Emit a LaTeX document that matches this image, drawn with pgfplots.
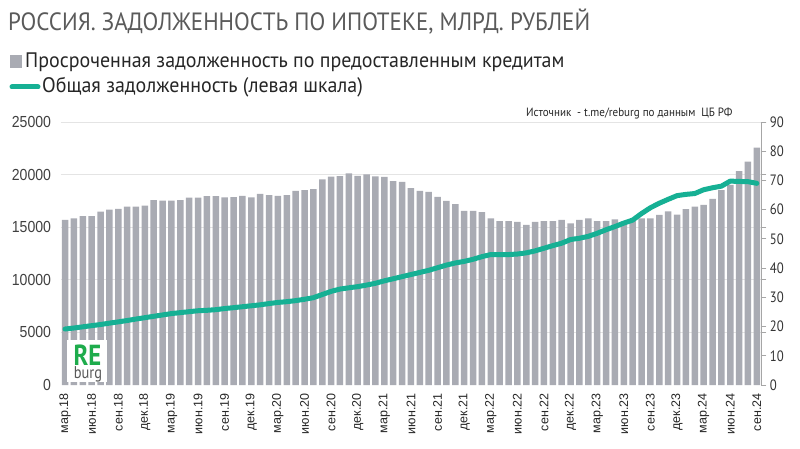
\documentclass[border=0pt]{standalone}
\usepackage{pgfplots}
\pgfplotsset{compat=1.18}
\usepackage{pgfplotstable}
\usepackage{fontspec}
\setmainfont{PT Sans}
\newfontfamily\condfont{PT Sans}[FakeStretch=0.85]
\newfontfamily\titlefont{PT Sans}[FakeStretch=0.92]
\newfontfamily\legfont{PT Sans}[FakeStretch=0.95]
\newfontfamily\arialfont{Liberation Sans}
\newfontfamily\arialnarrow{Liberation Sans}[FakeStretch=0.88]
\definecolor{barc}{RGB}{169,171,179}
\definecolor{teal1}{RGB}{22,176,148}
\definecolor{titlec}{RGB}{90,90,90}
\definecolor{gridc}{RGB}{228,228,228}
\definecolor{logog}{RGB}{30,172,76}

\pgfplotstableread{
i bar line
0 56.5 5320
1 57.0 5420
2 57.8 5530
3 57.8 5640
4 59.3 5750
5 60.0 5880
6 60.3 6000
7 61.0 6130
8 61.0 6270
9 61.4 6400
10 63.3 6530
11 63.1 6660
12 63.1 6790
13 63.3 6880
14 64.1 6970
15 64.1 7060
16 64.6 7100
17 64.6 7160
18 64.2 7270
19 64.3 7350
20 64.7 7440
21 64.2 7530
22 65.4 7620
23 65.0 7740
24 64.7 7850
25 65.0 7920
26 66.4 8020
27 66.7 8150
28 67.0 8300
29 70.4 8600
30 71.3 8900
31 71.5 9120
32 72.4 9240
33 71.6 9350
34 72.1 9500
35 71.4 9670
36 71.2 9900
37 69.8 10100
38 69.5 10300
39 67.4 10500
40 66.4 10700
41 66.1 10900
42 64.4 11150
43 63.0 11400
44 61.9 11600
45 59.6 11750
46 59.6 11950
47 59.2 12200
48 57.0 12400
49 56.1 12400
50 56.1 12400
51 55.8 12450
52 54.8 12560
53 55.8 12750
54 56.1 13000
55 56.1 13250
56 56.5 13480
57 55.3 13830
58 56.5 13950
59 57.0 14130
60 56.1 14420
61 56.1 14760
62 56.7 15060
63 56.0 15390
64 56.8 15680
65 57.0 16300
66 57.0 16850
67 58.2 17280
68 59.4 17650
69 58.3 18000
70 60.2 18120
71 61.0 18200
72 61.6 18560
73 63.7 18750
74 66.7 18900
75 68.5 19380
76 73.2 19350
77 76.4 19330
78 81.2 19170
}\datatable

\begin{document}
\begin{tikzpicture}
\path[use as bounding box] (0pt,0pt) rectangle (800pt,448pt);

% title
\node[anchor=base west, inner sep=0pt, text=titlec, font=\titlefont\fontsize{25}{25}\selectfont] at (8pt,417pt) {РОССИЯ. ЗАДОЛЖЕННОСТЬ ПО ИПОТЕКЕ, МЛРД. РУБЛЕЙ};

% legend
\fill[barc] (10pt,380pt) rectangle (22pt,393pt);
\node[anchor=base west, inner sep=0pt, text=black!85, font=\legfont\fontsize{21}{21}\selectfont] at (25pt,380pt) {Просроченная задолженность по предоставленным кредитам};
\draw[teal1, line width=5pt, line cap=round] (12pt,361pt) -- (38pt,361pt);
\node[anchor=base west, inner sep=0pt, text=black!85, font=\legfont\fontsize{21}{21}\selectfont] at (42pt,355pt) {Общая задолженность (левая шкала)};

% source
\node[anchor=base west, inner sep=0pt, text=black!85, font=\titlefont\fontsize{12}{12}\selectfont] at (526pt,331pt) {Источник\ \ - t.me/reburg по данным\ \ ЦБ РФ};

\begin{axis}[
  at={(60.6pt,63pt)}, anchor=south west, scale only axis,
  width=700.7pt, height=263pt,
  xmin=-0.5, xmax=78.5, ymin=0, ymax=90,
  axis y line*=right, axis x line*=bottom,
  x axis line style={draw=none},
  y axis line style={draw=gray!70, line width=0.8pt},
  ytick={0,10,...,90},
  ytick align=outside, major tick length=5pt,
  ytick style={draw=gray!70, line width=0.8pt},
  yticklabel style={font=\condfont\fontsize{15}{15}\selectfont, text=black!80},
  xtick={0,3,...,78},
  xticklabels={мар.18,июн.18,сен.18,дек.18,мар.19,июн.19,сен.19,дек.19,мар.20,июн.20,сен.20,дек.20,мар.21,июн.21,сен.21,дек.21,мар.22,июн.22,сен.22,дек.22,мар.23,июн.23,сен.23,дек.23,мар.24,июн.24,сен.24},
  xtick style={draw=none},
  xticklabel style={rotate=90, anchor=east, font=\arialfont\fontsize{12.5}{12.5}\selectfont, text=black!85},
  extra y ticks={18,36,54,72,90},
  extra y tick labels={},
  extra y tick style={grid=major, major grid style={gridc, line width=0.8pt}, tick style={draw=none}},
  ybar, bar width=6.5pt,
  /pgf/number format/assume math mode=true,
]
\addplot[fill=barc, draw=none] table[x=i,y=bar]{\datatable};
\end{axis}

% logo
\fill[white] (67pt,66pt) rectangle (107pt,108pt);
\node[inner sep=0pt, text=logog, font=\condfont\bfseries\fontsize{29}{29}\selectfont] at (87.5pt,93pt) {RE};
\node[inner sep=0pt, text=black!65, font=\condfont\fontsize{17}{17}\selectfont] at (88pt,74pt) {burg};

\begin{axis}[
  at={(60.6pt,63pt)}, anchor=south west, scale only axis,
  width=700.7pt, height=263pt,
  xmin=-0.5, xmax=78.5, ymin=0, ymax=25000,
  axis y line*=left, hide x axis,
  y axis line style={draw=none},
  ytick={0,5000,...,25000},
  major tick length=0pt,
  yticklabel style={font=\arialnarrow\fontsize{16}{16}\selectfont, text=black!75, xshift=-6pt},
  scaled y ticks=false,
  /pgf/number format/set thousands separator={},
  /pgf/number format/assume math mode=true,
]
\addplot[teal1, line width=5pt, line join=round, line cap=round] table[x=i,y=line]{\datatable};
\end{axis}
\end{tikzpicture}
\end{document}
